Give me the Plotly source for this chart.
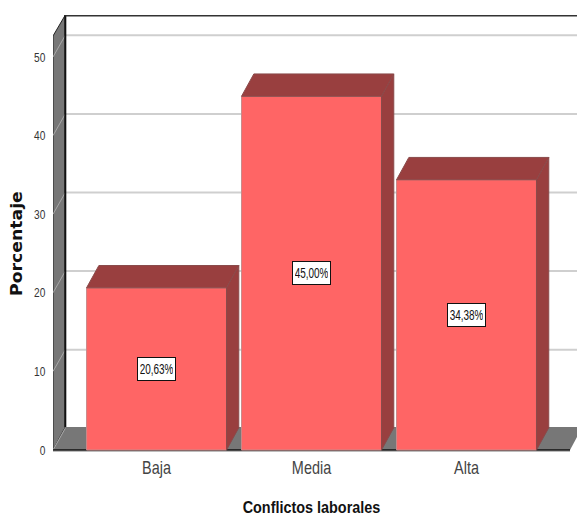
import plotly.graph_objects as go

categories = ["Baja", "Media", "Alta"]
percentages = [20.63, 45.00, 34.38]
y_ticks = [0, 10, 20, 30, 40, 50]

# Fake 3D extrusion, expressed in axis units
DEPTH_X = 0.0794
DEPTH_Y = 2.84
GRID_DEPTH_Y = 2.76
FLOOR_DEPTH_Y = 2.92
BAR_WIDTH = 0.903
X_LEFT = -0.668
X_FRONT_END = 2.668
X_MAX = 2.713
Y_MIN = -0.254
Y_MAX = 55.34
WALL_TOP = 52.67

FACE = "#FF6565"
SHADE = "#993F3F"
WALL = "#777777"
GRID = "#CFCFCF"
SANS = "Liberation Sans, Arial, sans-serif"

positions = list(range(len(categories)))
fig = go.Figure()


def polygon(xs, ys, **kw):
    path = "M" + " L".join(f"{x},{y}" for x, y in zip(xs, ys)) + " Z"
    return dict(type="path", path=path, xref="x", yref="y", layer="below", **kw)


def segment(x0, y0, x1, y1, color, width):
    return dict(type="line", x0=x0, y0=y0, x1=x1, y1=y1, xref="x", yref="y",
                layer="below", line=dict(color=color, width=width))


bx = X_LEFT + DEPTH_X
shapes = [
    # left wall and floor
    polygon([X_LEFT, bx, bx, X_LEFT], [0, FLOOR_DEPTH_Y, Y_MAX, WALL_TOP],
            fillcolor=WALL, line=dict(color="#222222", width=1)),
    polygon([X_LEFT, bx, X_FRONT_END + DEPTH_X, X_FRONT_END], [0, FLOOR_DEPTH_Y, FLOOR_DEPTH_Y, 0],
            fillcolor=WALL, line=dict(width=0)),
]
for t in y_ticks:
    if t:
        shapes.append(segment(bx, t + GRID_DEPTH_Y, X_MAX, t + GRID_DEPTH_Y, GRID, 2))
    shapes.append(segment(X_LEFT, t, bx, t + GRID_DEPTH_Y, "#A8A8A8", 1))
shapes += [
    segment(bx, FLOOR_DEPTH_Y, bx, Y_MAX, "#111111", 2),
    segment(bx, Y_MAX - 0.05, X_MAX, Y_MAX - 0.05, "#333333", 2),
    segment(X_LEFT, -0.2, X_FRONT_END, -0.2, "#BDBDBD", 1.5),
    segment(X_LEFT, 0, X_FRONT_END, 0, "#111111", 1.5),
]

fig.add_trace(go.Bar(
    x=positions, y=percentages, width=BAR_WIDTH,
    marker=dict(color=FACE, line=dict(color="#C98A8A", width=1)),
    hoverinfo="skip", showlegend=False,
))

half = BAR_WIDTH / 2
for p, v in zip(positions, percentages):
    r = p + half
    l = p - half
    # right side of the extruded bar
    fig.add_trace(go.Scatter(
        x=[r, r + DEPTH_X, r + DEPTH_X, r, r], y=[0, DEPTH_Y, v + DEPTH_Y, v, 0],
        mode="lines", fill="toself", fillcolor=SHADE, line=dict(color="#8A4A4A", width=1),
        hoverinfo="skip", showlegend=False,
    ))
    # top of the extruded bar
    fig.add_trace(go.Scatter(
        x=[l, l + DEPTH_X, r + DEPTH_X, r, l], y=[v, v + DEPTH_Y, v + DEPTH_Y, v, v],
        mode="lines", fill="toself", fillcolor=SHADE, line=dict(color="#8A4A4A", width=1),
        hoverinfo="skip", showlegend=False,
    ))

annotations = [
    dict(x=p, y=v / 2, xref="x", yref="y", showarrow=False,
         text=f"{v:.2f}%".replace(".", ","), width=33, height=18, align="center",
         font=dict(family=SANS, size=14, color="#111111"),
         bgcolor="white", bordercolor="#111111", borderwidth=1, borderpad=2)
    for p, v in zip(positions, percentages)
]
annotations.append(dict(
    text="<b>Porcentaje</b>", textangle=-90, showarrow=False,
    xref="paper", yref="paper", x=-0.0897, y=0.478,
    font=dict(family="DejaVu Sans, sans-serif", size=15, color="#111111"),
))
annotations.append(dict(
    text="<b>Conflictos laborales</b>", showarrow=False,
    xref="paper", yref="paper", x=0.494, y=-0.151,
    font=dict(family=SANS, size=16, color="#111111"),
))

fig.update_layout(
    width=577, height=516, autosize=False,
    margin=dict(l=53, r=0, t=15, b=64),
    paper_bgcolor="white", plot_bgcolor="white",
    shapes=shapes, annotations=annotations,
    xaxis=dict(
        range=[X_LEFT, X_MAX], tickmode="array", tickvals=positions, ticktext=categories,
        showgrid=False, zeroline=False, showline=False, ticks="", ticklabelstandoff=2,
        tickfont=dict(family=SANS, size=19, color="#444444"),
    ),
    yaxis=dict(
        range=[Y_MIN, Y_MAX], tickmode="array", tickvals=y_ticks,
        showgrid=False, zeroline=False, showline=False, ticks="outside", ticklen=4,
        tickcolor="rgba(0,0,0,0)",
        tickfont=dict(family=SANS, size=13, color="#333333"),
    ),
)

# Condense the labels horizontally, since no narrow face is available
condense = """
const fit = (sel, k) => document.querySelectorAll(sel).forEach(t => {
  t.setAttribute('lengthAdjust', 'spacingAndGlyphs');
  t.setAttribute('textLength', t.getComputedTextLength() * k);
});
fit('.xtick text', 0.76);
fit('.ytick text', 0.78);
document.querySelectorAll('.annotation-text').forEach(t => {
  const s = t.textContent;
  const k = s === 'Porcentaje' ? 1.15 : s.startsWith('Conflictos') ? 0.9 : 0.71;
  t.setAttribute('lengthAdjust', 'spacingAndGlyphs');
  t.setAttribute('textLength', t.getComputedTextLength() * k);
});
"""

fig.write_html("out.html", config=dict(displayModeBar=False), post_script=condense)
